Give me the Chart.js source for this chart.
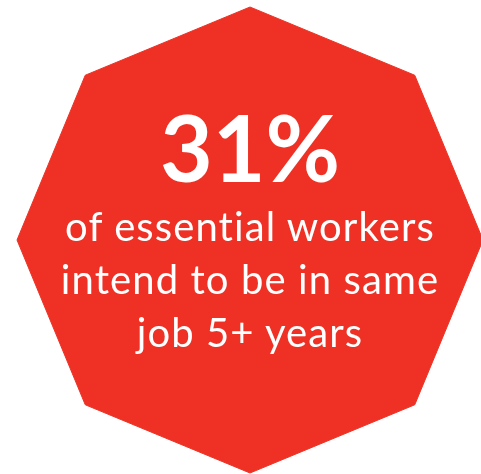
<!DOCTYPE html>
<html>
<head>
<meta charset="utf-8">
<script src="https://cdn.jsdelivr.net/npm/chart.js@4/dist/chart.umd.min.js"></script>
<style>
  html, body { margin: 0; padding: 0; width: 481px; height: 474px; overflow: hidden; background: #ffffff; }
  #wrap { position: absolute; left: 0; top: 0; width: 500px; height: 480px; }
  .txt { position: absolute; left: 0; width: 500px; text-align: center; color: #ffffff; font-family: Lato, "Open Sans", sans-serif; white-space: nowrap; font-variant-ligatures: none; font-feature-settings: "liga" 0, "clig" 0; }
  #stat { top: 102px; font-size: 91px; line-height: 90px; font-weight: 700; }
  #desc { top: 200px; font-size: 40px; line-height: 53px; font-weight: 400; letter-spacing: 1.1px; }
</style>
</head>
<body>
<div id="wrap"><canvas id="c"></canvas></div>
<div class="txt" id="stat"></div>
<div class="txt" id="desc"></div>
<script>
// Octagon: 8 equal sides drawn as a radar polygon
const sides = ['', '', '', '', '', '', '', ''];
const sideValues = [1, 1, 1, 1, 1, 1, 1, 1];
// Headline statistic and caption
const statValue = 31;
const statSuffix = '%';
const captionLines = ['of essential workers', 'intend to be in same', 'job 5+ years'];

document.getElementById('stat').textContent = statValue + statSuffix;
document.getElementById('desc').innerHTML = captionLines.map(l => '<div>' + l + '</div>').join('');

new Chart(document.getElementById('c'), {
  type: 'radar',
  data: {
    labels: sides,
    datasets: [{
      data: sideValues,
      backgroundColor: 'rgb(238,49,36)',
      borderColor: 'rgb(238,49,36)',
      borderWidth: 1,
      fill: true,
      pointRadius: 0,
      tension: 0
    }]
  },
  options: {
    responsive: true,
    maintainAspectRatio: false,
    animation: false,
    layout: { padding: 7 },
    plugins: { legend: { display: false }, tooltip: { enabled: false } },
    scales: {
      r: {
        min: 0, max: 1,
        ticks: { display: false },
        grid: { display: false },
        angleLines: { display: false },
        pointLabels: { display: false }
      }
    }
  }
});
</script>
</body>
</html>
